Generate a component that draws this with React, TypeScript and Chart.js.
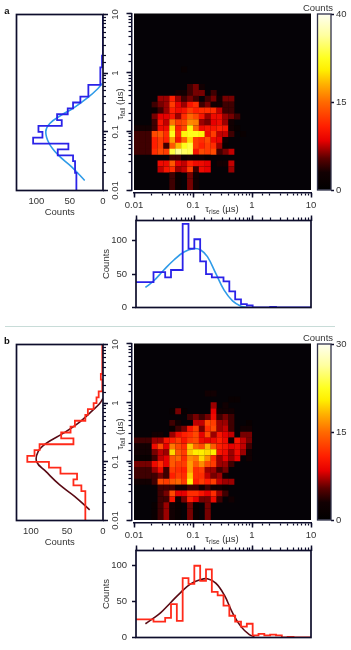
import React, { useEffect, useRef } from "react";
import { Chart, registerables } from "chart.js";

Chart.register(...registerables);

// ---------- data ----------
const decades = [0.01, 0.1, 1, 10];

const heatA: number[][] = [
  [], [], [], [], [], [], [], [], [],
  [0,0,0,0,0,0,0,0,1],
  [],
  [],
  [0,0,0,0,0,0,0,0,0,3,4,2],
  [0,0,0,0,0,0,0,2,2,3,4,4,0,3],
  [0,0,0,0,5,5,10,5,3,4,3,0,3,4,2,4,4],
  [0,0,0,3,4,5,12,7,5,9,11,3,4,2,2,3,3],
  [0,0,0,1,3,5,10,8,9,12,10,11,11,11,6,3,3],
  [0,0,0,4,7,7,9,5,11,15,13,9,5,8,8,5,4,3],
  [0,0,0,3,9,6,16,12,13,18,17,5,4,7,8,5,2],
  [2,2,2,3,8,8,25,10,13,28,15,8,9,9,10,9,2,1],
  [3,3,3,13,14,11,30,11,28,30,30,28,8,12,6,6,3,0,1],
  [3,3,3,10,12,10,20,9,15,25,12,11,13,8,7,2],
  [3,3,3,10,12,3,14,22,30,33,12,10,12,11,5,1],
  [3,3,3,11,13,12,33,38,35,34,9,13,12,13,3,4,6],
  [0,0,0,0,0,0,3,3,1,2,2,2,1],
  [0,0,0,0,8,8,14,7,6,10,8,8,7,0,2,2,6],
  [0,0,0,0,6,9,11,5,6,12,3,8,7,0,0,0,5],
  [0,0,0,0,0,0,3,1,0,4,2],
  [0,0,0,0,0,0,3,1,0,4,2],
  [0,0,0,0,0,0,3,1,0,4,2],
];

const heatB: number[][] = [
  [], [], [], [], [], [], [], [],
  [0,0,0,0,0,0,0,0,0,0,0,0,2,2],
  [0,0,0,0,0,0,0,0,0,0,0,0,0,0,0,0,1,1],
  [0,0,0,0,0,0,0,0,0,0,0,0,0,5,0,2],
  [0,0,0,0,0,0,1,4,1,0,0,0,0,7,2,2,2],
  [0,0,0,0,0,0,0,0,0,3,4,3,4,8,3,4,3],
  [0,0,0,0,0,0,3,2,0,0,6,6,13,12,5,5,3,0,0,1],
  [0,0,0,0,0,0,1,3,4,9,12,4,11,13,5,6,3,0,2,2],
  [0,0,0,2,2,0,5,8,10,11,13,7,13,5,9,7,6,0,4,4],
  [3,3,3,5,5,9,10,12,9,12,13,8,7,8,10,8,2,9,6,4],
  [2,2,2,8,13,7,16,13,11,20,15,13,19,14,10,9,7,8,6,3],
  [2,2,2,4,6,5,21,14,12,20,22,22,21,22,9,8,5,8,5,2],
  [1,1,1,3,6,7,14,15,11,17,16,21,17,11,5,7,5,7,0,2],
  [4,4,4,8,11,7,14,12,12,18,14,17,13,12,5,5,3],
  [3,3,3,5,8,3,12,11,10,18,11,12,5,5,3,4],
  [3,3,3,3,4,3,10,12,11,20,11,11,6,4,5,2],
  [2,2,2,3,13,12,14,15,12,23,10,12,10,12,6,5,5],
  [0,0,0,0,3,3,3,2,2,3,3,2,3,2,2,1],
  [0,0,0,0,3,4,13,7,7,11,11,9,7,11,5,3],
  [0,0,0,0,3,3,9,2,4,10,7,4,4,8,3,0,2],
  [0,0,0,1,3,5,2,1,0,4,1,0,4],
  [0,0,0,1,3,5,2,1,0,4,1,0,4],
  [0,0,0,1,3,5,2,1,0,4,1,0,4],
];

const fallCountsA = [40,40,40,42,42,45,68,52,105,91,97,62,69,53,45,34,22,22,4,4,4,1.5,1.5,0,0,0,0,0,0,0];
const riseCountsA = [38,38,38,53,53,45,56,56,125,88,102,69,50,45,45,39,24,12,5,3,0,0,0,1,0,0,0,0,0,0];
const fallCountsB = [24.5,24.5,24.5,24.5,24.5,30,41,36,59,75,105,95,88,41,58,45,39,24.5,21,13,9,6,1,1,3,1,1,1,1,1];
const riseCountsB = [25,25,25,22,22,27,46,23,82,74,99,78,94,63,58,44,30,22,15,19,3,5,3,4,3,0,1,0,0,0];

const fallFitTauA = [0.0148,0.0256,0.0404,0.0638,0.1007,0.139,0.193,0.251,0.385,0.548,0.667];
const fallFitCountA = [27.5,47.5,67.5,81,86,80,62.5,45,22.5,7.5,1];
const riseFitTauA = [0.0145,0.0202,0.03,0.0446,0.0664,0.0986,0.1285,0.1675,0.233,0.324,0.452,0.63,0.82];
const riseFitCountA = [30,40,56,71,83,88,86,76,51,26,10,2,0];
const fallFitTauB = [0.0152,0.0256,0.0404,0.068,0.1,0.149,0.206,0.305,0.482,0.76,0.986,1.2];
const fallFitCountB = [18.5,39,60,79,92,90,79,55.5,32,14,4.6,0];
const riseFitTauB = [0.0145,0.0202,0.0263,0.0391,0.0581,0.0865,0.1285,0.1675,0.233,0.324,0.452,0.63,0.877,1.07];
const riseFitCountB = [19,27,34,48,62,74,80,81,75,59,34,15,4,1];

const colorbarLabelsA = ["0", "15", "40"];
const colorbarLabelsB = ["0", "15", "30"];
const colorStops: [number, string][] = [
  [0, "#000000"], [0.1, "#120002"], [0.18, "#5a0000"], [0.28, "#e60000"], [0.36, "#ff1e00"],
  [0.5, "#ff6a00"], [0.6, "#ffb000"], [0.68, "#ffee00"], [0.75, "#ffff20"], [0.88, "#ffffa0"], [1, "#fffff0"],
];

// ---------- helpers ----------
const FONT = '"Liberation Sans", Arial, sans-serif';
const INK = "#0d0d2b";
const TEXT = "#333333";
Chart.defaults.font.family = FONT;
Chart.defaults.font.size = 9.5;
Chart.defaults.color = TEXT;

const hex = (s: string) => [1, 3, 5].map((i) => parseInt(s.slice(i, i + 2), 16));
function colorAt(t: number) {
  for (let i = 1; i < colorStops.length; i++) {
    const [t1, c1] = colorStops[i];
    if (t <= t1) {
      const [t0, c0] = colorStops[i - 1];
      const f = (t - t0) / (t1 - t0);
      const a = hex(c0), b = hex(c1);
      return `rgb(${a.map((v, k) => Math.round(v + (b[k] - v) * f)).join(",")})`;
    }
  }
  return colorStops[colorStops.length - 1][1];
}
const fracA = (v: number) => (v <= 15 ? v / 30 : 0.5 + (v - 15) / 50);
const fracB = (v: number) => v / 30;
// Tone curve for cells: faint cells show a little brighter, strong ones a little darker.
const cellTone = (v: number) => (v <= 4 ? v * 1.5 : 6 + (v - 4) * 0.8);
const binEdge = (i: number) => Math.pow(10, -2 + i / 10);
const binCentre = (i: number) => Math.pow(10, -2 + (i + 0.5) / 10);

const zeroBox = (s: any) => {
  if (s.isHorizontal()) s.height = 0; else s.width = 0;
  s.paddingLeft = s.paddingRight = s.paddingTop = s.paddingBottom = 0;
};

// Axes take no layout room; chart areas come from the padding. This places their boxes afterwards.
const axisBoxes = {
  id: "axisBoxes",
  afterLayout(chart: any) {
    const o = chart.options.plugins.axisBoxes || {};
    const gap = o.gap || 0;
    Object.values(chart.scales).forEach((s: any) => {
      const band = o.bands?.[s.id] ?? 40;
      const pos = s.options.position;
      if (pos === "bottom") { s.top += gap; s.bottom = s.top + band; }
      if (pos === "top") { s.bottom -= gap; s.top = s.bottom - band; }
      if (pos === "left") { s.right -= gap; s.left = s.right - band; }
      if (pos === "right") { s.left += gap; s.right = s.left + band; }
    });
  },
};
const panelFrame = {
  id: "panelFrame",
  beforeDatasetsDraw(chart: any) {
    const o = chart.options.plugins.panelFrame || {};
    if (o.fill) {
      const a = chart.chartArea;
      chart.ctx.save();
      chart.ctx.fillStyle = o.fill;
      chart.ctx.fillRect(a.left, a.top, a.width, a.height);
      chart.ctx.restore();
    }
  },
  afterDraw(chart: any) {
    const o = chart.options.plugins.panelFrame || {};
    if (o.color) {
      const a = chart.chartArea;
      const c = chart.ctx;
      c.save();
      c.strokeStyle = o.color;
      c.lineWidth = o.width || 1.7;
      c.strokeRect(a.left, a.top, a.width, a.height);
      c.restore();
    }
  },
};

function logAxes(axis: "x" | "y", position: string, labelled: boolean, tickPadding = 2, border = false) {
  const vertical = axis === "y";
  const base = { type: "logarithmic", position, min: 0.01, max: 10, afterFit: zeroBox };
  return {
    [axis]: {
      ...base,
      weight: 0,
      border: { display: border, color: INK, width: 1.5 },
      grid: { drawOnChartArea: false, tickLength: 3, tickColor: INK, tickWidth: 1.2 },
      ticks: { display: false, autoSkip: false },
    },
    [axis + "Major"]: {
      ...base,
      weight: 1,
      border: { display: false },
      grid: { drawOnChartArea: false, tickLength: 5, tickColor: INK, tickWidth: 1.5 },
      afterBuildTicks: (s: any) => { s.ticks = decades.map((value) => ({ value, major: true })); },
      ticks: {
        display: labelled,
        autoSkip: false,
        padding: tickPadding,
        color: TEXT,
        callback: (v: number) => String(v),
        ...(vertical ? { minRotation: 90, maxRotation: 90, crossAlign: "center" } : { minRotation: 0, maxRotation: 0 }),
      },
    },
  };
}

const padFor = (l: number, t: number, r: number, b: number) => ({ left: l, top: t, right: 351 - r, bottom: 650 - b });

function baseOptions(area: number[], scales: any, plugins: any) {
  return {
    responsive: false,
    animation: false,
    events: [],
    layout: { autoPadding: false, padding: padFor(area[0], area[1], area[2], area[3]) },
    scales,
    plugins: { legend: { display: false }, tooltip: { enabled: false }, title: { display: false }, ...plugins },
  };
}

function heatConfig(rows: number[][], frac: (v: number) => number, dy: number) {
  const points: { x: number; y: number }[] = [];
  const colors: string[] = [];
  rows.forEach((row, r) =>
    row.forEach((v, c) => {
      if (v > 0) {
        points.push({ x: binCentre(c), y: binCentre(29 - r) });
        colors.push(colorAt(frac(cellTone(v))));
      }
    })
  );
  return {
    type: "scatter",
    data: {
      datasets: [{ data: points, pointStyle: "rect", pointRadius: 4.25, pointBorderWidth: 0, pointBackgroundColor: colors }],
    },
    options: baseOptions(
      [134, 13.5 + dy, 311, 190 + dy],
      { ...logAxes("x", "bottom", true, 2, true), ...logAxes("y", "left", false, 2, true) },
      { axisBoxes: { gap: 2.5 }, panelFrame: { fill: "#050206" } }
    ),
  };
}

function fallConfig(counts: number[], fitTau: number[], fitCount: number[], histColor: string, fitColor: string, max: number, ticks: number[], dy: number) {
  const hist = counts.map((c, i) => ({ x: c, y: binEdge(i) }));
  hist.push({ x: 0, y: binEdge(30) });
  return {
    type: "scatter",
    data: {
      datasets: [
        { data: hist, showLine: true, stepped: "after", borderColor: histColor, borderWidth: 1.8, pointRadius: 0 },
        { data: fitTau.map((y, i) => ({ x: fitCount[i], y })), showLine: true, tension: 0.4, borderColor: fitColor, borderWidth: 1.6, pointRadius: 0 },
      ],
    },
    options: baseOptions(
      [16.5, 14.5 + dy, 103, 190.5 + dy],
      {
        ...logAxes("y", "right", true, -1.5),
        x: {
          type: "linear", position: "bottom", reverse: true, min: 0, max, afterFit: zeroBox,
          afterBuildTicks: (s: any) => { s.ticks = ticks.map((value) => ({ value })); },
          border: { display: false },
          grid: { display: false, drawTicks: false },
          ticks: { padding: 5, color: TEXT, autoSkip: false, maxRotation: 0 },
          title: { display: true, text: "Counts", color: TEXT, padding: 0, font: { size: 9.5 } },
        },
      },
      { axisBoxes: { bands: { x: 28 } }, panelFrame: { color: INK } }
    ),
  };
}

function riseConfig(counts: number[], fitTau: number[], fitCount: number[], histColor: string, fitColor: string, max: number, ticks: number[], dy: number) {
  const hist = counts.map((c, i) => ({ x: binEdge(i), y: c }));
  hist.push({ x: binEdge(30), y: 0 });
  return {
    type: "scatter",
    data: {
      datasets: [
        { data: hist, showLine: true, stepped: true, borderColor: histColor, borderWidth: 1.8, pointRadius: 0 },
        { data: fitTau.map((x, i) => ({ x, y: fitCount[i] })), showLine: true, tension: 0.4, borderColor: fitColor, borderWidth: 1.6, pointRadius: 0 },
      ],
    },
    options: baseOptions(
      [136, 220.5 + dy, 311, 307.5 + dy],
      {
        ...logAxes("x", "top", false),
        y: {
          type: "linear", position: "left", min: 0, max, afterFit: zeroBox,
          afterBuildTicks: (s: any) => { s.ticks = ticks.map((value) => ({ value })); },
          border: { display: false },
          grid: { drawOnChartArea: false, tickLength: 4, tickColor: INK, tickWidth: 1.5 },
          ticks: { padding: 5, color: TEXT, autoSkip: false },
          title: { display: true, text: "Counts", color: TEXT, padding: 0, font: { size: 9.5 } },
        },
      },
      { axisBoxes: { bands: { y: 35 } }, panelFrame: { color: INK } }
    ),
  };
}

function colorbarConfig(labels: string[], dy: number) {
  return {
    type: "bar",
    data: {
      labels: ["Counts"],
      datasets: [
        {
          data: [1],
          barPercentage: 1,
          categoryPercentage: 1,
          backgroundColor: (ctx: any) => {
            const area = ctx.chart.chartArea;
            if (!area) return "#000";
            const g = ctx.chart.ctx.createLinearGradient(0, area.bottom, 0, area.top);
            colorStops.forEach(([t, c]) => g.addColorStop(t, c));
            return g;
          },
        },
      ],
    },
    options: baseOptions(
      [317.5, 14 + dy, 331, 190 + dy],
      {
        x: { type: "category", display: false, afterFit: zeroBox },
        y: {
          type: "linear", position: "right", min: 0, max: 1, afterFit: zeroBox,
          afterBuildTicks: (s: any) => { s.ticks = labels.map((_, i) => ({ value: i / (labels.length - 1) })); },
          border: { display: false },
          grid: { drawOnChartArea: false, tickLength: 3, tickColor: INK, tickWidth: 1.5 },
          ticks: { padding: 2, color: TEXT, autoSkip: false, callback: (_: number, i: number) => labels[i] },
        },
      },
      { axisBoxes: {}, panelFrame: { color: "#30324a", width: 1.3 } }
    ),
  };
}

const panelConfigs = [
  heatConfig(heatA, fracA, 0),
  fallConfig(fallCountsA, fallFitTauA, fallFitCountA, "#2a22e8", "#2f9be8", 130, [0, 50, 100], 0),
  riseConfig(riseCountsA, riseFitTauA, riseFitCountA, "#2a22e8", "#2f9be8", 130, [0, 50, 100], 0),
  colorbarConfig(colorbarLabelsA, 0),
  heatConfig(heatB, fracB, 330),
  fallConfig(fallCountsB, fallFitTauB, fallFitCountB, "#ff2a1a", "#5a0a14", 120, [0, 50, 100], 330),
  riseConfig(riseCountsB, riseFitTauB, riseFitCountB, "#ff2a1a", "#5a0a14", 120, [0, 50, 100], 330),
  colorbarConfig(colorbarLabelsB, 330),
];

// ---------- text ----------
const textBase: React.CSSProperties = {
  position: "absolute",
  fontFamily: FONT,
  fontSize: 9.5,
  lineHeight: 1,
  color: TEXT,
  whiteSpace: "nowrap",
};
function Label({ x, y, rotate, bold, children }: { x: number; y: number; rotate?: boolean; bold?: boolean; children: React.ReactNode }) {
  return (
    <span
      style={{
        ...textBase,
        left: x,
        top: y,
        fontWeight: bold ? 700 : 400,
        color: bold ? "#111" : TEXT,
        transform: `translate(-50%,-50%)${rotate ? " rotate(-90deg)" : ""}`,
      }}
    >
      {children}
    </span>
  );
}
const Sub = ({ children }: { children: string }) => (
  <span style={{ fontSize: 6.5, position: "relative", top: 2 }}>{children}</span>
);

export default function App() {
  const wrap = useRef<HTMLDivElement>(null);
  useEffect(() => {
    const canvases = Array.from(wrap.current!.querySelectorAll("canvas"));
    const charts = canvases.map(
      (canvas, i) => new Chart(canvas, { ...(panelConfigs[i] as any), plugins: [axisBoxes, panelFrame] })
    );
    return () => charts.forEach((c) => c.destroy());
  }, []);
  return (
    <div ref={wrap} style={{ position: "absolute", left: 0, top: 0, width: 351, height: 650, overflow: "hidden", background: "#fff", filter: "blur(0.35px)" }}>
      {panelConfigs.map((_, i) => (
        <canvas key={i} width={351} height={650} style={{ position: "absolute", left: 0, top: 0, width: 351, height: 650 }} />
      ))}
      <div style={{ position: "absolute", left: 5, top: 325.5, width: 330, height: 1, background: "#c8dcd8" }} />
      {[0, 330].map((dy) => (
        <React.Fragment key={dy}>
          <Label x={7} y={11 + dy} bold>{dy ? "b" : "a"}</Label>
          <Label x={318} y={8 + dy}>Counts</Label>
          <Label x={222} y={209 + dy}>τ<Sub>rise</Sub> (µs)</Label>
          <Label x={119.5} y={104 + dy} rotate>τ<Sub>fall</Sub> (µs)</Label>
        </React.Fragment>
      ))}
    </div>
  );
}
